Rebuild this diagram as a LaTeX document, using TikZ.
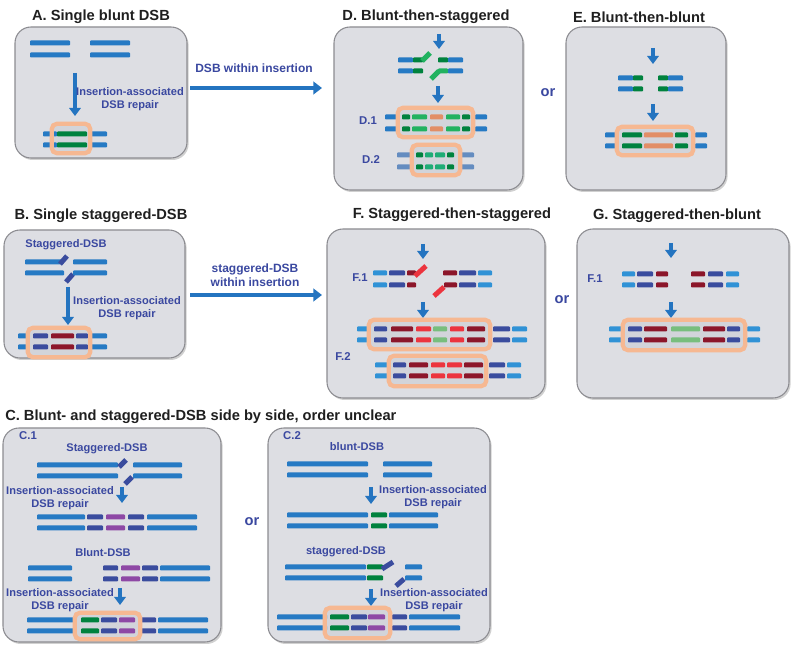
\documentclass[tikz,border=0pt]{standalone}
\usepackage{fontspec}
\setmainfont{Liberation Sans}
\usetikzlibrary{arrows.meta,shadows,fit}
\definecolor{boxfill}{RGB}{221,222,227}
\definecolor{boxline}{RGB}{140,140,145}
\definecolor{dnab}{RGB}{38,122,196}
\definecolor{dnal}{RGB}{48,146,214}
\definecolor{navy}{RGB}{58,76,158}
\definecolor{dgreen}{RGB}{0,130,62}
\definecolor{lgreen}{RGB}{34,178,96}
\definecolor{tgreen}{RGB}{30,172,118}
\definecolor{salmon}{RGB}{226,142,102}
\definecolor{dred}{RGB}{140,22,42}
\definecolor{bred}{RGB}{236,52,62}
\definecolor{mint}{RGB}{120,190,125}
\definecolor{purp}{RGB}{142,72,165}
\definecolor{steel}{RGB}{100,140,192}
\definecolor{lblc}{RGB}{58,72,160}
\definecolor{arrowb}{RGB}{36,116,192}
\definecolor{peach}{RGB}{246,184,146}
\definecolor{orfill}{RGB}{210,212,218}
\newcommand{\dnaseg}[4]{\fill[#4,rounded corners=0.6pt] (#1,#3-2.5) rectangle (#2,#3+2.5);}
\newcommand{\dnapair}[5]{\dnaseg{#1}{#2}{#3}{#5}\dnaseg{#1}{#2}{#4}{#5}}
\newcommand{\dnastub}[5]{\draw[#5,line width=3.75pt] (#1,#2) -- (#3,#4);}
\begin{document}
\begin{tikzpicture}[x=0.75pt,y=-0.75pt,
  panel/.style={draw=boxline, line width=0.8pt, fill=boxfill, rounded corners=12pt, inner sep=0pt,
     drop shadow={opacity=0.3, shadow xshift=1.2pt, shadow yshift=-1.5pt, fill=black!60}},
  ofill/.style={fill=orfill, rounded corners=4pt, inner sep=0pt, draw=none},
  oline/.style={draw=peach, line width=3.2pt, rounded corners=4pt},
  inarrow/.style={draw=arrowb, line width=3pt, -{Triangle[width=8.5pt,length=6pt]}},
  bigarrow/.style={draw=arrowb, line width=3.4pt, -{Triangle[width=9.5pt,length=6.5pt]}},
  ttl/.style={font=\bfseries\fontsize{11}{12}\selectfont, text=black!88, inner sep=0pt},
  lbl/.style={font=\bfseries\fontsize{8.3}{9.8}\selectfont, text=lblc, align=center, inner sep=0pt},
  albl/.style={font=\bfseries\fontsize{9}{10.5}\selectfont, text=lblc, align=center, inner sep=0pt},
  orl/.style={font=\bfseries\fontsize{11}{12}\selectfont, text=lblc, inner sep=0pt},
  tag/.style={font=\bfseries\fontsize{8.5}{10}\selectfont, text=lblc, inner sep=0pt},
]
\useasboundingbox (0,0) rectangle (794,652);
\fill[white] (0,0) rectangle (794,652);

% ---------- panels ----------
\node[panel, fit={(15,27) (187,158)}] (A) {};
\node[panel, fit={(334,27) (523,190)}] (D) {};
\node[panel, fit={(566,27) (726,190)}] (E) {};
\node[panel, fit={(4,230) (185,358)}] (B) {};
\node[panel, fit={(327,229) (545,398)}] (F) {};
\node[panel, fit={(577,229) (789,398)}] (G) {};
\node[panel, fit={(3,428) (221,642)}] (C1) {};
\node[panel, fit={(268,428) (490,642)}] (C2) {};

% ---------- titles ----------
\node[ttl] (tA) at (101,17) {A. Single blunt DSB};
\node[ttl] (tD) at (426,17) {D. Blunt-then-staggered};
\node[ttl] (tE) at (639,17) {E. Blunt-then-blunt};
\node[ttl] (tB) at (101,216) {B. Single staggered-DSB};
\node[ttl] (tF) at (452,215) {F. Staggered-then-staggered};
\node[ttl] (tG) at (677,216) {G. Staggered-then-blunt};
\node[ttl, anchor=west] (tC) at (5,417) {C. Blunt- and staggered-DSB side by side, order unclear};

% ---------- orange box fills ----------
\node[ofill, fit={(52,124) (90,153)}] (oA) {};
\node[ofill, fit={(398,108) (473,137)}] (oD1) {};
\node[ofill, fit={(412,145) (460,175)}] (oD2) {};
\node[ofill, fit={(617,127) (693,155)}] (oE) {};
\node[ofill, fit={(28,328) (90,357)}] (oB) {};
\node[ofill, fit={(369,320) (490,349)}] (oF1) {};
\node[ofill, fit={(389,356) (486,386)}] (oF2) {};
\node[ofill, fit={(623,320) (745,350)}] (oG) {};
\node[ofill, fit={(75,613) (140,639)}] (oC1) {};
\node[ofill, fit={(325,608) (390,638)}] (oC2) {};

% ---------- panel A ----------
\dnapair{30}{70}{43}{55}{dnab}
\dnapair{90}{130}{43}{55}{dnab}
\draw[inarrow] (75,73) -- (75,116);
\node[lbl] (lA) at (130,99) {Insertion-associated\\DSB repair};
\dnapair{43}{57}{134}{145}{dnab}
\dnapair{57}{87}{134}{145}{dgreen}
\dnapair{91}{107}{134}{145}{dnab}

% ---------- A -> D ----------
\coordinate (adS) at (190,88);
\coordinate (adE) at (322,88);
\draw[bigarrow] (adS) -- (adE);
\node[albl] (lAD) at (254,68) {DSB within insertion};

% ---------- panel D ----------
\draw[inarrow] (439,34) -- (439,49);
\dnapair{398}{413}{60}{71}{dnab}
\dnapair{413}{423}{60}{71}{dgreen}
\dnastub{422}{61}{430}{53}{lgreen}
\dnaseg{438}{448}{60}{dgreen}
\dnaseg{448}{463}{60}{dnab}
\dnastub{431}{79}{439}{71}{lgreen}
\dnaseg{438}{448}{71}{lgreen}
\dnaseg{448}{463}{71}{dnab}
\draw[inarrow] (438,86) -- (438,103);
\node[tag] (lD1) at (368,121) {D.1};
\dnapair{385}{399}{117}{129}{dnab}
\dnapair{402}{410}{117}{129}{dgreen}
\dnapair{412}{427}{117}{129}{lgreen}
\dnapair{430}{443}{117}{129}{salmon}
\dnapair{446}{460}{117}{129}{lgreen}
\dnapair{462}{470}{117}{129}{dgreen}
\dnapair{475}{487}{117}{129}{dnab}
\node[tag] (lD2) at (371,160) {D.2};
\dnapair{397}{412}{155}{167}{steel}
\dnapair{416}{423}{155}{167}{dgreen}
\dnapair{425}{433}{155}{167}{tgreen}
\dnapair{435}{445}{155}{167}{tgreen}
\dnapair{447}{454}{155}{167}{dgreen}
\dnapair{461}{474}{155}{167}{steel}

\node[orl] (or1) at (548,93) {or};

% ---------- panel E ----------
\draw[inarrow] (653,48) -- (653,64);
\dnapair{618}{633}{78}{89}{dnab}
\dnapair{633}{643}{78}{89}{dgreen}
\dnapair{658}{668}{78}{89}{dgreen}
\dnapair{668}{683}{78}{89}{dnab}
\draw[inarrow] (653,104) -- (653,121);
\dnapair{605}{617}{135}{146}{dnab}
\dnapair{622}{642}{135}{146}{dgreen}
\dnapair{644}{673}{135}{146}{salmon}
\dnapair{675}{688}{135}{146}{dgreen}
\dnapair{695}{707}{135}{146}{dnab}

% ---------- panel B ----------
\node[lbl] (lBs) at (66,245) {Staggered-DSB};
\dnaseg{25}{63}{262}{dnab}
\dnastub{60}{264}{67}{256}{navy}
\dnaseg{73}{107}{262}{dnab}
\dnaseg{25}{64}{273}{dnab}
\dnastub{66}{282}{73}{274}{navy}
\dnaseg{73}{107}{273}{dnab}
\draw[inarrow] (68,287) -- (68,325);
\node[lbl] (lB) at (127,308) {Insertion-associated\\DSB repair};
\dnapair{18}{28}{336}{347}{dnab}
\dnapair{33}{48}{336}{347}{navy}
\dnapair{51}{74}{336}{347}{dred}
\dnapair{76}{88}{336}{347}{navy}
\dnapair{91}{107}{336}{347}{dnab}

% ---------- B -> F ----------
\coordinate (bfS) at (190,295);
\coordinate (bfE) at (322,295);
\draw[bigarrow] (bfS) -- (bfE);
\node[albl] (lBF) at (255,275) {staggered-DSB\\within insertion};

% ---------- panel F ----------
\node[tag] (lF1) at (360,278) {F.1};
\draw[inarrow] (423,244) -- (423,259);
\dnapair{373}{387}{273}{285}{dnal}
\dnapair{389}{405}{273}{285}{navy}
\dnapair{407}{416}{273}{285}{dred}
\dnastub{415}{276}{426}{266}{bred}
\dnaseg{443}{457}{273}{dred}
\dnastub{434}{296}{444}{287}{bred}
\dnaseg{444}{457}{285}{dred}
\dnapair{459}{476}{273}{285}{navy}
\dnapair{478}{492}{273}{285}{dnal}
\draw[inarrow] (423,302) -- (423,318);
\dnapair{357}{369}{329}{340}{dnal}
\dnapair{374}{387}{329}{340}{navy}
\dnapair{391}{413}{329}{340}{dred}
\dnapair{416}{431}{329}{340}{bred}
\dnapair{433}{447}{329}{340}{mint}
\dnapair{450}{464}{329}{340}{bred}
\dnapair{467}{485}{329}{340}{dred}
\dnapair{493}{510}{329}{340}{navy}
\dnapair{512}{527}{329}{340}{dnal}
\node[tag] (lF2) at (343,357) {F.2};
\dnapair{375}{390}{365}{376}{dnal}
\dnapair{393}{406}{365}{376}{navy}
\dnapair{409}{428}{365}{376}{dred}
\dnapair{431}{445}{365}{376}{bred}
\dnapair{447}{462}{365}{376}{bred}
\dnapair{464}{483}{365}{376}{dred}
\dnapair{489}{505}{365}{376}{navy}
\dnapair{507}{521}{365}{376}{dnal}

\node[orl] (or2) at (562,300) {or};

% ---------- panel G ----------
\node[tag] (lG1) at (595,279) {F.1};
\draw[inarrow] (671,243) -- (671,258);
\dnapair{622}{635}{274}{285}{dnal}
\dnapair{637}{653}{274}{285}{navy}
\dnapair{656}{668}{274}{285}{dred}
\dnapair{691}{705}{274}{285}{dred}
\dnapair{708}{723}{274}{285}{navy}
\dnapair{726}{739}{274}{285}{dnal}
\draw[inarrow] (671,302) -- (671,318);
\dnapair{609}{622}{329}{340}{dnal}
\dnapair{628}{642}{329}{340}{navy}
\dnapair{644}{667}{329}{340}{dred}
\dnapair{671}{700}{329}{340}{mint}
\dnapair{703}{725}{329}{340}{dred}
\dnapair{727}{740}{329}{340}{navy}
\dnapair{747}{760}{329}{340}{dnal}

% ---------- panel C.1 ----------
\node[tag] (lC1) at (28,436) {C.1};
\node[lbl] (lC1s) at (107,449) {Staggered-DSB};
\dnapair{37}{118}{465}{476}{dnab}
\dnastub{119}{467}{126}{460}{navy}
\dnastub{125}{484}{132}{477}{navy}
\dnapair{133}{182}{465}{476}{dnab}
\node[lbl] (lC1a) at (60,498) {Insertion-associated\\DSB repair};
\draw[inarrow] (122,487) -- (122,503);
\dnapair{37}{85}{517}{528}{dnab}
\dnapair{87}{103}{517}{528}{navy}
\dnapair{106}{125}{517}{528}{purp}
\dnapair{128}{144}{517}{528}{navy}
\dnapair{147}{197}{517}{528}{dnab}
\node[lbl] (lC1b) at (103,553) {Blunt-DSB};
\dnapair{28}{72}{568}{579}{dnab}
\dnapair{103}{118}{568}{579}{navy}
\dnapair{121}{140}{568}{579}{purp}
\dnapair{142}{158}{568}{579}{navy}
\dnapair{160}{210}{568}{579}{dnab}
\node[lbl] (lC1c) at (60,600) {Insertion-associated\\DSB repair};
\draw[inarrow] (120,588) -- (120,605);
\dnapair{27}{75}{620}{631}{dnab}
\dnapair{81}{99}{620}{631}{dgreen}
\dnapair{101}{117}{620}{631}{navy}
\dnapair{119}{135}{620}{631}{purp}
\dnapair{141}{156}{620}{631}{navy}
\dnapair{158}{208}{620}{631}{dnab}

\node[orl] (or3) at (252,522) {or};

% ---------- panel C.2 ----------
\node[tag] (lC2) at (292,436) {C.2};
\node[lbl] (lC2b) at (357,447) {blunt-DSB};
\dnapair{287}{368}{464}{475}{dnab}
\dnapair{383}{432}{464}{475}{dnab}
\draw[inarrow] (371,487) -- (371,504);
\node[lbl] (lC2a) at (433,497) {Insertion-associated\\DSB repair};
\dnapair{287}{368}{515}{526}{dnab}
\dnapair{371}{387}{515}{526}{dgreen}
\dnapair{389}{438}{515}{526}{dnab}
\node[lbl] (lC2s) at (346,552) {staggered-DSB};
\dnapair{285}{366}{567}{578}{dnab}
\dnapair{367}{383}{567}{578}{dgreen}
\dnastub{382}{569}{393}{562}{navy}
\dnastub{396}{586}{404}{579}{navy}
\dnapair{405}{422}{567}{578}{dnab}
\draw[inarrow] (371,589) -- (371,606);
\node[lbl] (lC2c) at (434,600) {Insertion-associated\\DSB repair};
\dnapair{277}{327}{617}{628}{dnab}
\dnapair{330}{349}{617}{628}{dgreen}
\dnapair{351}{367}{617}{628}{navy}
\dnapair{368}{385}{617}{628}{purp}
\dnapair{392}{407}{617}{628}{navy}
\dnapair{409}{460}{617}{628}{dnab}

% ---------- orange box borders ----------
\foreach \o in {oA,oD1,oD2,oE,oB,oF1,oF2,oG,oC1,oC2}
  \draw[oline] (\o.south west) rectangle (\o.north east);
\end{tikzpicture}
\end{document}
